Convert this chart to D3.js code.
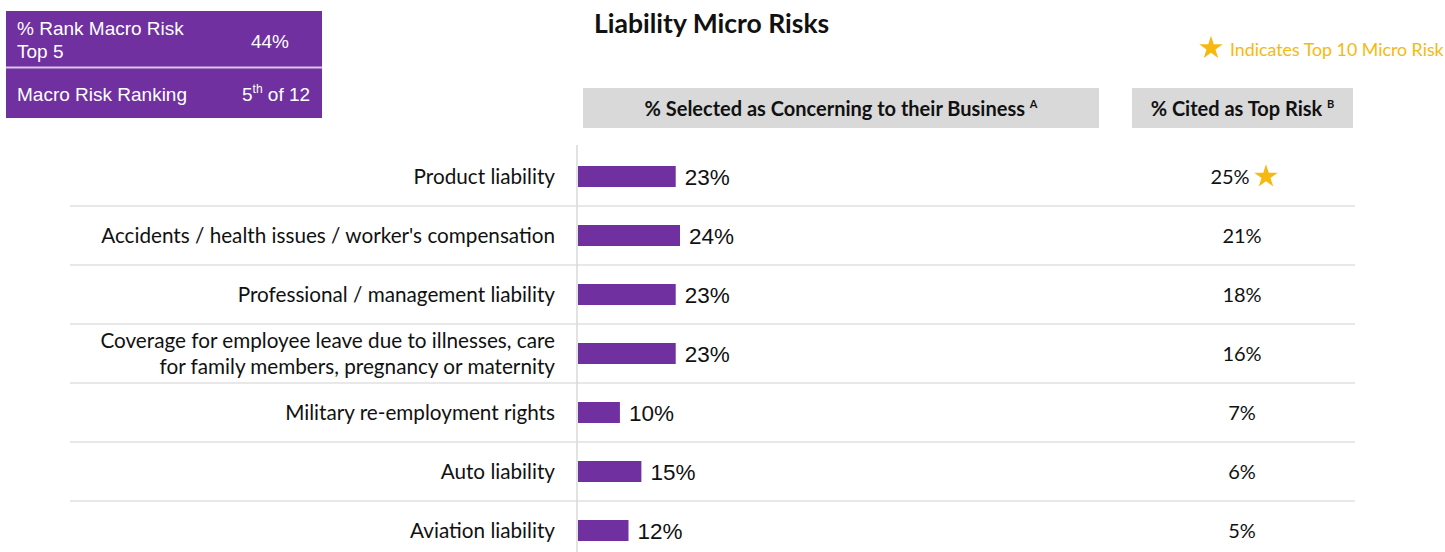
<!DOCTYPE html>
<html>
<head>
<meta charset="utf-8">
<script src="https://cdn.jsdelivr.net/npm/d3@7"></script>
<style>
  body { margin: 0; background: #fff; }
  svg { display: block; }
</style>
</head>
<body>
<svg id="chart"></svg>
<script>
//Data
var categories = [
    "Product liability",
    "Accidents / health issues / worker's compensation",
    "Professional / management liability",
    "Coverage for employee leave due to illnesses, care|for family members, pregnancy or maternity",
    "Military re-employment rights",
    "Auto liability",
    "Aviation liability"
];
var selectedPct = [23, 24, 23, 23, 10, 15, 12];
var topRiskPct = [25, 21, 18, 16, 7, 6, 5];
var topTenFlags = [true, false, false, false, false, false, false];

//Dimensions
var dimensions = { width: 1445, height: 552 };
var purple = "#7030a0";
var gold = "#f6b90f";
var calibri = "Lato, 'Open Sans', sans-serif";
var arial = "'Liberation Sans', Arial, sans-serif";

var svg = d3.select("#chart")
            .attr("width", dimensions.width)
            .attr("height", dimensions.height);

//Scales
var xScale = d3.scaleLinear()
               .domain([0, 24])
               .range([577, 680]);

var yScale = d3.scaleBand()
               .domain(categories)
               .range([147, 560]);

//Top-left info box
var info = svg.append("g").style("font-family", arial).style("font-size", "19px").attr("fill", "#fff");
info.append("rect").attr("x", 6).attr("y", 11).attr("width", 316).attr("height", 107).attr("fill", purple);
info.append("line").attr("x1", 6).attr("x2", 322).attr("y1", 67.5).attr("y2", 67.5)
    .attr("stroke", "#d9c6ea").attr("stroke-width", 2);
info.append("text").attr("x", 17).attr("y", 35).text("% Rank Macro Risk");
info.append("text").attr("x", 17).attr("y", 58).text("Top 5");
info.append("text").attr("x", 270).attr("y", 48).attr("text-anchor", "middle").text("44%");
info.append("text").attr("x", 17).attr("y", 101).text("Macro Risk Ranking");
var rank = info.append("text").attr("x", 242).attr("y", 101);
rank.append("tspan").text("5");
rank.append("tspan").attr("dy", -8).style("font-size", "12px").text("th");
rank.append("tspan").attr("dy", 8).text(" of 12");

//Title
svg.append("text")
    .attr("x", 594).attr("y", 33)
    .style("font-family", calibri).style("font-weight", "bold").style("font-size", "26.5px")
    .attr("fill", "#111")
    .text("Liability Micro Risks");

//Legend
svg.append("path")
    .attr("d", d3.symbol().type(d3.symbolStar).size(170)())
    .attr("transform", "translate(1211,48)")
    .attr("fill", gold);
svg.append("text")
    .attr("x", 1230).attr("y", 56)
    .style("font-family", calibri).style("font-size", "17.8px")
    .attr("fill", gold)
    .text("Indicates Top 10 Micro Risk");

//Column headers
var headers = [
    { x: 583, w: 516, text: "% Selected as Concerning to their Business ", sup: "A" },
    { x: 1132, w: 221, text: "% Cited as Top Risk ", sup: "B" }
];
headers.forEach(function(h){
    svg.append("rect").attr("x", h.x).attr("y", 88).attr("width", h.w).attr("height", 40).attr("fill", "#d9d9d9");
    var t = svg.append("text")
        .attr("x", h.x + h.w / 2).attr("y", 116).attr("text-anchor", "middle")
        .style("font-family", calibri).style("font-weight", "bold").style("font-size", "20px")
        .attr("fill", "#111");
    t.append("tspan").text(h.text);
    t.append("tspan").attr("dy", -8).style("font-size", "11px").text(h.sup);
});

//Row separators
var seps = categories.slice(0, -1);
svg.append("g").selectAll("line")
    .data(seps)
    .join("line")
    .attr("x1", 70).attr("x2", 1355)
    .attr("y1", function(d){ return yScale(d) + yScale.bandwidth(); })
    .attr("y2", function(d){ return yScale(d) + yScale.bandwidth(); })
    .attr("stroke", "#e8e8e8").attr("stroke-width", 2);

//Axis line
svg.append("line")
    .attr("x1", xScale(0)).attr("x2", xScale(0))
    .attr("y1", 145).attr("y2", dimensions.height)
    .attr("stroke", "#d9d9d9").attr("stroke-width", 1.5);

//Category labels
var labels = svg.append("g").selectAll("text")
    .data(categories)
    .join("text")
    .attr("x", 555)
    .attr("text-anchor", "end")
    .style("font-family", calibri).style("font-size", "20.7px")
    .attr("fill", "#111");
labels.each(function(d){
    var lines = d.split("|");
    var cy = yScale(d) + yScale.bandwidth() / 2;
    var t = d3.select(this);
    lines.forEach(function(line, i){
        t.append("tspan")
         .attr("x", 555)
         .attr("y", cy + 7 + (i - (lines.length - 1) / 2) * 26)
         .text(line);
    });
});

//Bars
var barH = 21;
svg.append("g").selectAll("rect")
    .data(categories)
    .join("rect")
    .attr("x", xScale(0) + 1)
    .attr("y", function(d){ return yScale(d) + yScale.bandwidth() / 2 - barH / 2; })
    .attr("width", function(d, i){ return xScale(selectedPct[i]) - xScale(0) - 1; })
    .attr("height", barH)
    .attr("fill", purple);

//Bar value labels
svg.append("g").selectAll("text")
    .data(categories)
    .join("text")
    .attr("x", function(d, i){ return xScale(selectedPct[i]) + 9; })
    .attr("y", function(d){ return yScale(d) + yScale.bandwidth() / 2 + 8; })
    .style("font-family", arial).style("font-size", "22.5px")
    .attr("fill", "#111")
    .text(function(d, i){ return selectedPct[i] + "%"; });

//Top risk column
svg.append("g").selectAll("text")
    .data(categories)
    .join("text")
    .attr("x", function(d, i){ return topTenFlags[i] ? 1230 : 1242; })
    .attr("y", function(d){ return yScale(d) + yScale.bandwidth() / 2 + 7; })
    .attr("text-anchor", "middle")
    .style("font-family", calibri).style("font-size", "20px")
    .attr("fill", "#111")
    .text(function(d, i){ return topRiskPct[i] + "%"; });

//Stars for top 10
svg.append("g").selectAll("path")
    .data(categories.filter(function(d, i){ return topTenFlags[i]; }))
    .join("path")
    .attr("d", d3.symbol().type(d3.symbolStar).size(170)())
    .attr("transform", function(d){ return "translate(1266," + (yScale(d) + yScale.bandwidth() / 2) + ")"; })
    .attr("fill", gold);
</script>
</body>
</html>
